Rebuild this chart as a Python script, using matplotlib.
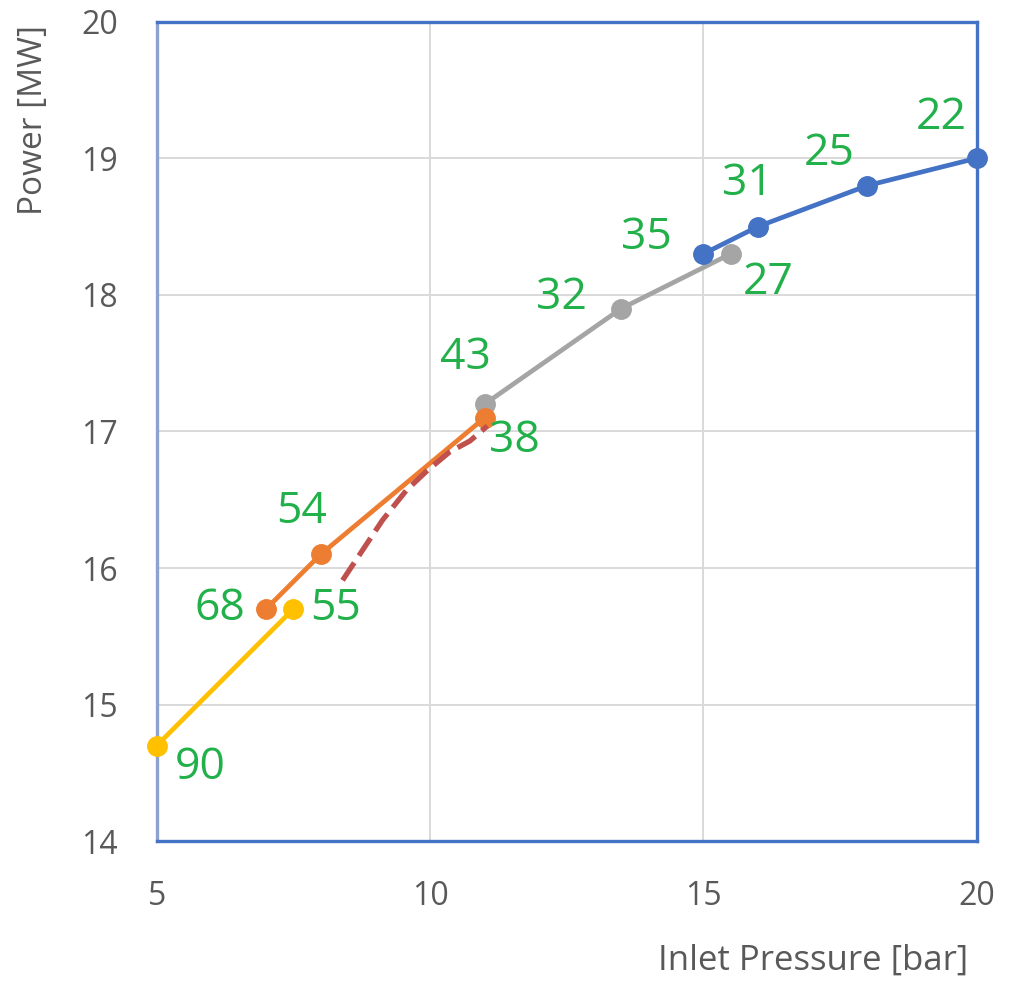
import matplotlib.pyplot as plt

# series
blue_x = [15, 16, 18, 20]
blue_y = [18.3, 18.5, 18.8, 19.0]
blue_lab = ["35", "31", "25", "22"]

gray_x = [11, 13.5, 15.5]
gray_y = [17.2, 17.9, 18.3]
gray_lab = ["43", "32", "27"]

orange_x = [7, 8, 11]
orange_y = [15.7, 16.1, 17.1]
orange_lab = ["68", "54", "38"]

yellow_x = [5, 7.5]
yellow_y = [14.7, 15.7]
yellow_lab = ["90", "55"]

red_x = [8.4, 9.13, 9.57, 9.94, 10.36, 10.73, 11.05]
red_y = [15.91, 16.35, 16.57, 16.71, 16.85, 16.93, 17.04]

# label positions (data coords)
lab_pos = {
    "22": (19.35, 19.30), "25": (17.3, 19.03), "31": (15.8, 18.81),
    "35": (13.96, 18.42), "27": (16.18, 18.09), "32": (12.4, 17.98),
    "43": (10.65, 17.54), "38": (11.55, 16.93), "54": (7.65, 16.41),
    "68": (6.15, 15.70), "55": (8.27, 15.70), "90": (5.8, 14.54),
}

xticks = [5, 10, 15, 20]
yticks = [14, 15, 16, 17, 18, 19, 20]

plt.rcParams['font.family'] = ['Open Sans', 'DejaVu Sans']

fig = plt.figure(figsize=(10.11, 9.85), dpi=100)
ax = fig.add_axes([0.155, 0.146, 0.811, 0.832])

lw, ms = 3.4, 14
kw = dict(lw=lw, marker="o", ms=ms, clip_on=False)
ax.plot(yellow_x, yellow_y, color="#FFC000", zorder=3, **kw)
ax.plot(orange_x, orange_y, color="#ED7D31", zorder=4, **kw)
ax.plot(gray_x, gray_y, color="#A5A5A5", zorder=3, **kw)
ax.plot(blue_x, blue_y, color="#4472C4", zorder=4, **kw)
ax.plot(red_x, red_y, color="#C0504D", lw=3.8, ls=(0, (4, 1.6)), zorder=5)

for lab in blue_lab + gray_lab + orange_lab + yellow_lab:
    x, y = lab_pos[lab]
    ax.text(x, y, lab, color="#22B04A", fontsize=32, ha="center", va="center", zorder=6)

ax.set_xlim(5, 20)
ax.set_ylim(14, 20)
ax.set_xticks(xticks)
ax.set_yticks(yticks)
ax.grid(True, color="#D9D9D9", lw=1.4)
ax.set_axisbelow(True)
ax.tick_params(length=0, labelsize=23, labelcolor="#595959")
ax.tick_params(axis="y", pad=28)
ax.tick_params(axis="x", pad=28)

for s in ["top", "right", "bottom"]:
    ax.spines[s].set_color("#4472C4")
    ax.spines[s].set_linewidth(2.4)
ax.spines["left"].set_color("#8EA2CF")
ax.spines["left"].set_linewidth(2.4)

fig.text(0.033, 0.878, "Power [MW]", rotation=90, fontsize=24, color="#595959",
         ha="center", va="center")
fig.text(0.804, 0.025, "Inlet Pressure [bar]", fontsize=25, color="#595959",
         ha="center", va="center")

fig.savefig("out.png", dpi=100)
